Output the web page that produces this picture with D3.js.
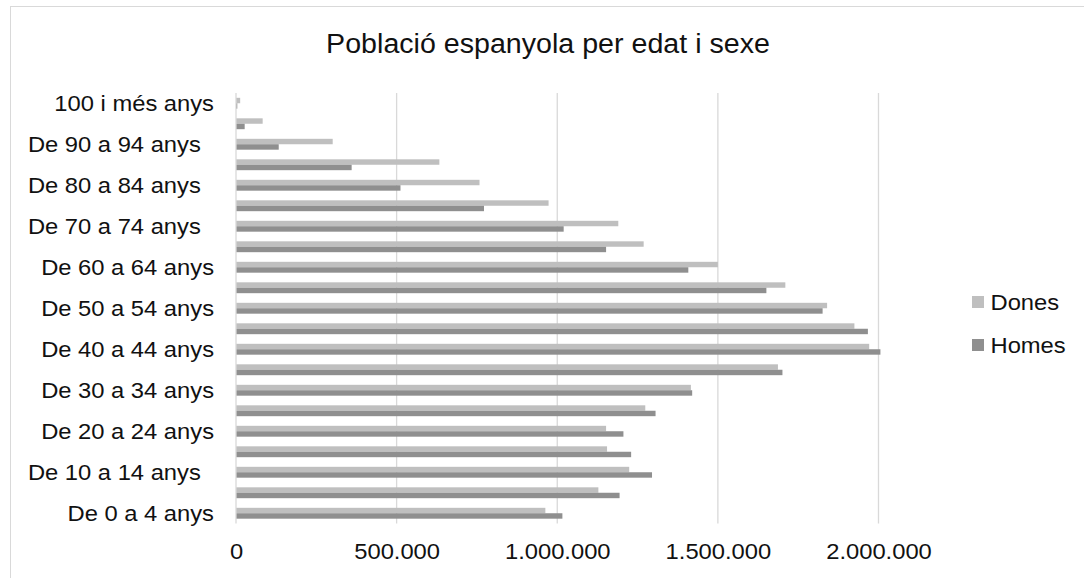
<!DOCTYPE html>
<html>
<head>
<meta charset="utf-8">
<script src="https://cdn.jsdelivr.net/npm/d3@7/dist/d3.min.js"></script>
<style>
  html, body { margin: 0; padding: 0; background: #fff; }
  svg { display: block; font-family: "Liberation Sans", Arial, sans-serif; }
  text { white-space: pre; }
</style>
</head>
<body>
<svg id="chart" width="1084" height="578"></svg>
<script>
// Age groups, from youngest to oldest (some source labels carry trailing spaces)
const ageGroups = [
  "De 0 a 4 anys", "De 5 a 9 anys", "De 10 a 14 anys  ", "De 15 a 19 anys",
  "De 20 a 24 anys", "De 25 a 29 anys", "De 30 a 34 anys", "De 35 a 39 anys",
  "De 40 a 44 anys", "De 45 a 49 anys", "De 50 a 54 anys", "De 55 a 59 anys",
  "De 60 a 64 anys", "De 65 a 69 anys", "De 70 a 74 anys  ", "De 75 a 79 anys",
  "De 80 a 84 anys  ", "De 85 a 89 anys", "De 90 a 94 anys  ", "De 95 a 99 anys",
  "100 i més anys"
];

// Population by age group
const dones = [
  963000, 1128000, 1224000, 1155000, 1152000, 1274000, 1416000, 1687000,
  1971000, 1925000, 1840000, 1710000, 1500000, 1269000, 1190000, 973000,
  758000, 633000, 301000, 83000, 13000
];
const homes = [
  1016000, 1194000, 1295000, 1230000, 1206000, 1306000, 1420000, 1701000,
  2006000, 1967000, 1826000, 1651000, 1408000, 1152000, 1020000, 772000,
  512000, 360000, 133000, 27000, 4000
];

const seriesNames = ["Dones", "Homes"];
const xTicks = [0, 500000, 1000000, 1500000, 2000000];
const titleText = "Població espanyola per edat i sexe";

const colors = { Dones: "#bfbfbf", Homes: "#8f8f8f" };
const gridColor = "#d9d9d9";
const textColor = "#111";
const stretch = "scale(1.08,1)";

const svg = d3.select("#chart");

// outer frame
svg.append("rect")
  .attr("x", 10.5).attr("y", 6.5)
  .attr("width", 1200).attr("height", 700)
  .attr("fill", "#fff")
  .attr("stroke", gridColor).attr("stroke-width", 1);

const plot = { left: 236, right: 878.5, top: 93, bottom: 523.5 };

const x = d3.scaleLinear().domain([0, 2000000]).range([plot.left, plot.right]);
// oldest group at the top
const y = d3.scaleBand()
  .domain(ageGroups.slice().reverse())
  .range([plot.top, plot.bottom])
  .paddingInner(0).paddingOuter(0);

const locale = d3.formatLocale({ decimal: ",", thousands: ".", grouping: [3], currency: ["", ""] });
const fmt = locale.format(",d");

// vertical gridlines
svg.append("g").selectAll("line")
  .data(xTicks.slice(1))
  .join("line")
  .attr("x1", d => x(d)).attr("x2", d => x(d))
  .attr("y1", plot.top).attr("y2", plot.bottom)
  .attr("stroke", gridColor).attr("stroke-width", 1.3);

// bars
const bandH = y.bandwidth();
const barH = bandH * 0.265;
const rows = ageGroups.map((g, i) => ({ group: g, Dones: dones[i], Homes: homes[i] }));

const barG = svg.append("g");
barG.selectAll("rect.dones")
  .data(rows)
  .join("rect")
  .attr("class", "dones")
  .attr("x", x(0))
  .attr("y", d => y(d.group) + bandH / 2 - barH)
  .attr("width", d => x(d.Dones) - x(0))
  .attr("height", barH)
  .attr("fill", colors.Dones);
barG.selectAll("rect.homes")
  .data(rows)
  .join("rect")
  .attr("class", "homes")
  .attr("x", x(0))
  .attr("y", d => y(d.group) + bandH / 2)
  .attr("width", d => x(d.Homes) - x(0))
  .attr("height", barH)
  .attr("fill", colors.Homes);

// category axis line
svg.append("line")
  .attr("x1", plot.left).attr("x2", plot.left)
  .attr("y1", plot.top).attr("y2", plot.bottom)
  .attr("stroke", gridColor).attr("stroke-width", 1.3);

// category axis labels (every other group)
const yAxis = d3.axisLeft(y)
  .tickValues(ageGroups.filter((d, i) => i % 2 === 0))
  .tickSize(0).tickPadding(0);
const yAxisG = svg.append("g")
  .attr("transform", `translate(${plot.left},0)`)
  .call(yAxis);
yAxisG.select(".domain").remove();
yAxisG.selectAll("text")
  .attr("x", null)
  .attr("dy", "0.35em")
  .attr("transform", `translate(-22,0) ${stretch}`)
  .attr("font-size", 22)
  .attr("font-family", "Liberation Sans, Arial, sans-serif")
  .attr("fill", textColor);

// value axis labels
const xAxis = d3.axisBottom(x).tickValues(xTicks).tickFormat(fmt).tickSize(0).tickPadding(0);
const xAxisG = svg.append("g")
  .attr("transform", `translate(0,${plot.bottom})`)
  .call(xAxis);
xAxisG.select(".domain").remove();
xAxisG.selectAll("text")
  .attr("y", null)
  .attr("dy", null)
  .attr("transform", `translate(0,35) ${stretch}`)
  .attr("font-size", 22)
  .attr("font-family", "Liberation Sans, Arial, sans-serif")
  .attr("fill", textColor);

// title
svg.append("text")
  .attr("transform", "translate(548,53) scale(1.06,1)")
  .attr("text-anchor", "middle")
  .attr("font-size", 27)
  .attr("fill", textColor)
  .text(titleText);

// legend
const legend = svg.append("g").attr("transform", "translate(972,0)");
const legendY = { Dones: 302, Homes: 345 };
seriesNames.forEach(name => {
  legend.append("rect")
    .attr("x", 0).attr("y", legendY[name] - 6)
    .attr("width", 12).attr("height", 12)
    .attr("fill", colors[name]);
  legend.append("text")
    .attr("transform", `translate(18.5,${legendY[name] + 8}) ${stretch}`)
    .attr("font-size", 22)
    .attr("fill", textColor)
    .text(name);
});
</script>
</body>
</html>
